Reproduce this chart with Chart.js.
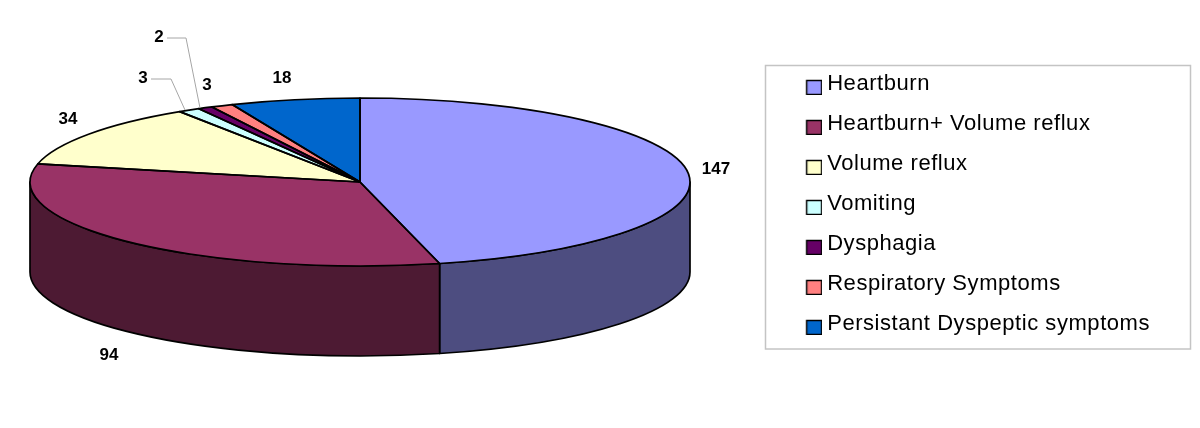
<!DOCTYPE html>
<html>
<head>
<meta charset="utf-8">
<title>Symptoms</title>
<script src="https://cdn.jsdelivr.net/npm/chart.js@4"></script>
<style>
  body { margin: 0; background: #fff; }
  canvas { display: block; }
</style>
</head>
<body>
<canvas id="myChart" width="1200" height="428"></canvas>
<script>
// values as printed on the slices
var symptoms = ['Heartburn', 'Heartburn+ Volume reflux', 'Volume reflux', 'Vomiting', 'Dysphagia', 'Respiratory Symptoms', 'Persistant Dyspeptic symptoms'];
var patients = [147, 94, 34, 3, 2, 3, 18];
var topColors = ['#9999FF', '#993366', '#FFFFCC', '#CCFFFF', '#660066', '#FF8080', '#0066CC'];
var sideColors = ['#4D4D80', '#4D1A33', '#808066', '#668080', '#330033', '#804040', '#003366'];

// where the pie sits on the page
var pie = { x: 360, y: 182, rx: 330, ry: 84, depth: 90 };
var labelSpots = [[716, 169], [109, 355], [68, 119], [143, 78], [159, 37], [207, 85], [282, 78]];
var leaders = { 3: [[151, 79], [171, 79], [185, 110]], 4: [[167, 38], [186, 38], [200, 108]] };

// legend swatch, drawn off to the right and low so it lines up with the text
function swatch(color) {
  var c = document.createElement('canvas');
  c.width = 22; c.height = 22;
  var g = c.getContext('2d');
  g.fillStyle = color;
  g.strokeStyle = '#000';
  g.lineWidth = 1.5;
  g.fillRect(6.5, 7.5, 15, 14);
  g.strokeRect(6.5, 7.5, 15, 14);
  return c;
}

// the picture's slices are squeezed a bit towards the front, perspective of the 3d view
function warp(a) {
  var fromTop = a + Math.PI / 2;
  return a - 0.087 * (1 - Math.cos(fromTop)) + 0.044 * Math.sin(fromTop);
}

var fakePie = {
  id: 'fakePie',
  beforeLayout: function(chart) {
    // legend text in the picture runs a little wider than Liberation Sans
    chart.ctx.letterSpacing = '0.55px';
  },
  afterDatasetsUpdate: function(chart) {
    chart.getDatasetMeta(0).data.forEach(function(arc) {
      var s = warp(arc.startAngle), e = warp(arc.endAngle);
      arc.startAngle = s;
      arc.endAngle = e;
      arc.circumference = e - s;
    });
  },
  beforeDatasetsDraw: function(chart) {
    var ctx = chart.ctx;
    var arcs = chart.getDatasetMeta(0).data;
    ctx.letterSpacing = '0px';
    ctx.save();
    ctx.lineWidth = 1.7;
    ctx.lineJoin = 'round';
    ctx.strokeStyle = '#000';
    // side wall, only the front half shows
    arcs.forEach(function(arc, i) {
      var s = Math.max(arc.startAngle, 0), e = Math.min(arc.endAngle, Math.PI);
      if (e <= s) return;
      ctx.beginPath();
      ctx.ellipse(pie.x, pie.y, pie.rx, pie.ry, 0, s, e);
      ctx.ellipse(pie.x, pie.y + pie.depth, pie.rx, pie.ry, 0, e, s, true);
      ctx.closePath();
      ctx.fillStyle = sideColors[i];
      ctx.fill();
      ctx.stroke();
    });
    ctx.restore();
    // squash the round pie into the top face
    var c = arcs[0];
    ctx.save();
    ctx.translate(pie.x, pie.y);
    ctx.scale(1, pie.ry / pie.rx);
    ctx.translate(-c.x, -c.y);
  },
  afterDatasetsDraw: function(chart) {
    var ctx = chart.ctx;
    ctx.restore();
    ctx.save();
    ctx.lineWidth = 1.7;
    ctx.lineJoin = 'round';
    ctx.strokeStyle = '#000';
    chart.getDatasetMeta(0).data.forEach(function(arc) {
      ctx.beginPath();
      ctx.moveTo(pie.x, pie.y);
      ctx.ellipse(pie.x, pie.y, pie.rx, pie.ry, 0, arc.startAngle, arc.endAngle);
      ctx.closePath();
      ctx.stroke();
    });
    ctx.restore();

    ctx.save();
    // leader lines for the two thin slices
    ctx.strokeStyle = '#A6A6A6';
    ctx.lineWidth = 1;
    Object.keys(leaders).forEach(function(k) {
      ctx.beginPath();
      leaders[k].forEach(function(p, j) {
        if (j == 0) ctx.moveTo(p[0], p[1]); else ctx.lineTo(p[0], p[1]);
      });
      ctx.stroke();
    });
    ctx.fillStyle = '#000';
    ctx.font = 'bold 17px "Liberation Sans"';
    ctx.textAlign = 'center';
    ctx.textBaseline = 'middle';
    patients.forEach(function(v, i) {
      ctx.fillText(v, labelSpots[i][0], labelSpots[i][1]);
    });
    ctx.restore();
  },
  beforeDraw: function(chart) {
    var ctx = chart.ctx;
    ctx.save();
    ctx.strokeStyle = '#C4C4C4';
    ctx.lineWidth = 1.5;
    ctx.strokeRect(765.5, 65.5, 425, 283.5);
    ctx.restore();
    ctx.letterSpacing = '0.55px';
  }
};

var ctx = document.getElementById('myChart').getContext('2d');
var myChart = new Chart(ctx, {
  type: 'pie',
  data: {
    labels: symptoms,
    datasets: [{
      data: patients,
      backgroundColor: topColors,
      borderWidth: 0,
      radius: 330
    }]
  },
  options: {
    responsive: false,
    animation: false,
    layout: { padding: { top: 55, right: 40, bottom: 0, left: 0 } },
    plugins: {
      tooltip: { enabled: false },
      legend: {
        position: 'right',
        align: 'start',
        labels: {
          color: '#000',
          font: { family: '"Liberation Sans"', size: 22 },
          boxWidth: 10,
          boxHeight: 10,
          padding: 18,
          usePointStyle: true,
          pointStyleWidth: 10,
          generateLabels: function(chart) {
            return symptoms.map(function(name, i) {
              return { text: name, pointStyle: swatch(topColors[i]), index: i, fontColor: '#000', lineWidth: 0 };
            });
          }
        }
      }
    }
  },
  plugins: [fakePie]
});
</script>
</body>
</html>
